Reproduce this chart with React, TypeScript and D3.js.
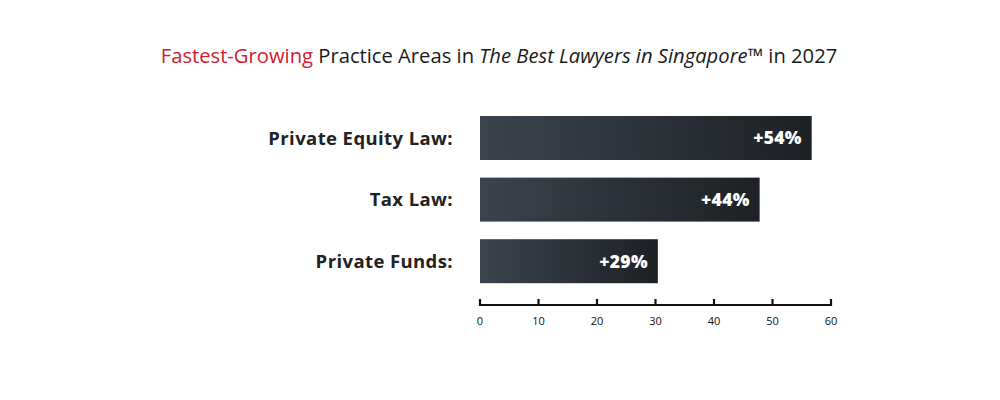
import React from "react";
import * as d3 from "d3";

const categories = ["Private Equity Law:", "Tax Law:", "Private Funds:"];
const barValues = [56.7, 47.8, 30.4];
const valueLabels = ["+54%", "+44%", "+29%"];
const tickValues = [0, 10, 20, 30, 40, 50, 60];

const W = 1000;
const H = 400;

export default function App() {
  const x = d3.scaleLinear().domain([0, 60]).range([480, 831]);
  const y = d3.scaleBand<string>().domain(categories).range([116, 283.2]).paddingInner(0.286).paddingOuter(0);
  const axisY = 305;
  return (
    <svg width={W} height={H} style={{ position: "absolute", left: 0, top: 0, background: "#fff" }}>
      <defs>
        <linearGradient id="barGrad" x1="0" x2="1" y1="0" y2="0">
          <stop offset="0%" stopColor="#3b434d" />
          <stop offset="100%" stopColor="#1d2125" />
        </linearGradient>
      </defs>
      <text x={499} y={63} textAnchor="middle" fontFamily="'Open Sans', sans-serif" fontSize={20.2} fill="#1a1a1a" fontWeight={400}>
        <tspan fill="#d0202e">Fastest-Growing</tspan>
        <tspan> Practice Areas in </tspan>
        <tspan fontStyle="italic">The Best Lawyers in Singapore™</tspan>
        <tspan> in 2027</tspan>
      </text>
      {categories.map((c, i) => {
        const y0 = y(c)!;
        const bw = y.bandwidth();
        return (
          <g key={c}>
            <rect x={x(0)} y={y0} width={x(barValues[i]) - x(0)} height={bw} fill="url(#barGrad)" />
            <text x={453} y={y0 + bw / 2} dy="0.36em" textAnchor="end" fontFamily="'Open Sans', sans-serif" fontWeight={700} fontSize={18.5} fill="#222" letterSpacing={0.4}>
              {c}
            </text>
            <text x={x(barValues[i]) - 10} y={y0 + bw / 2} dy="0.36em" textAnchor="end" fontFamily="'Open Sans', sans-serif" fontWeight={800} fontSize={17.5} fill="#fff" letterSpacing={0.3}>
              {valueLabels[i]}
            </text>
          </g>
        );
      })}
      <line x1={x(0)} x2={x(60)} y1={axisY} y2={axisY} stroke="#111" strokeWidth={2} />
      {tickValues.map((t) => (
        <g key={t}>
          <line x1={x(t)} x2={x(t)} y1={axisY - 6} y2={axisY + 1} stroke="#111" strokeWidth={2.2} />
          <text x={x(t)} y={321} dy="0.35em" textAnchor="middle" fontFamily="'Open Sans', sans-serif" fontSize={11} fill="#111">
            {t}
          </text>
        </g>
      ))}
    </svg>
  );
}
